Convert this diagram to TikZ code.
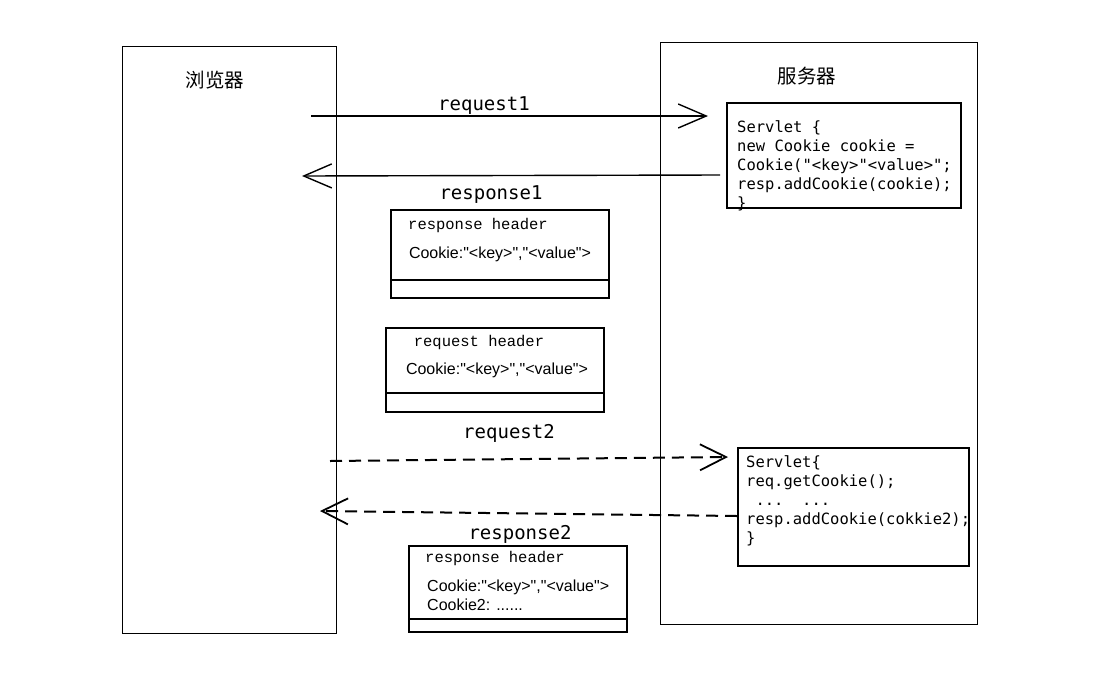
\documentclass[tikz,border=0pt]{standalone}
\usepackage{fontspec}
\setmainfont{Liberation Sans}[Ligatures=TeXOff]
\setmonofont{DejaVu Sans Mono}
\newfontfamily\cjk{Noto Sans CJK SC}
\newfontfamily\typew{Liberation Mono}
\usetikzlibrary{arrows.meta}
\begin{document}
\begin{tikzpicture}[x=1pt,y=-1pt,
  frame/.style={draw, line width=1pt, inner sep=0pt},
  hbox/.style={draw, line width=2.3pt, inner sep=0pt},
  code/.style={font=\ttfamily\fontsize{15.5}{19}\selectfont, align=left, anchor=base west, inner sep=0pt},
  lbl/.style={font=\ttfamily\fontsize{19}{21}\selectfont, inner sep=0pt, anchor=base},
  htitle/.style={font=\typew\fontsize{15.5}{18}\selectfont, inner sep=0pt, anchor=base},
  ckie/.style={font=\fontsize{16}{19}\selectfont, align=left, inner sep=0pt},
  cjklbl/.style={font=\cjk\fontsize{19.5}{22}\selectfont, inner sep=0pt},
  solidarrow/.style={line width=1.4pt, -{Straight Barb[length=28pt,width=24pt,line width=1.4pt]}},
  dasharrow/.style={line width=2pt, dash pattern=on 12pt off 7pt, -{Straight Barb[length=26pt,width=26pt,line width=1.8pt]}}
]
\useasboundingbox (0,0) rectangle (1109,673);

% outer frames
\node[frame, minimum width=214pt, minimum height=587pt] (browser) at (229,339.5) {};
\node[frame, minimum width=317pt, minimum height=582pt] (server) at (818.5,333) {};
\node[cjklbl] (blabel) at (215,80) {浏览器};
\node[cjklbl] (slabel) at (807,76) {服务器};

% servlet boxes
\node[hbox, minimum width=234pt, minimum height=105pt] (servlet1) at (844,155.5) {};
\node[code] (code1) at (737,208) {Servlet \{\\new Cookie cookie =\\Cookie("<key>"<value>";\\resp.addCookie(cookie);\\\}};
\node[hbox, minimum width=231pt, minimum height=118pt] (servlet2) at (853.5,507) {};
\node[code] (code2) at (746,543) {Servlet\{\\req.getCookie();\\\mbox{}\ ...\ \ ...\\resp.addCookie(cokkie2);\\\}};

% header boxes
\node[hbox, minimum width=218pt, minimum height=88pt] (rh1) at (500,254) {};
\node[htitle] (rh1t) at (478,229) {response header};
\node[ckie] (rh1c) at (500,254) {Cookie:"<key>","<value">};
\draw[line width=2.3pt] (391,280) -- (609,280);

\node[hbox, minimum width=218pt, minimum height=84pt] (qh) at (495,370) {};
\node[htitle] (qht) at (479,346) {request header};
\node[ckie] (qhc) at (497,370) {Cookie:"<key>","<value">};
\draw[line width=2.3pt] (386,393) -- (604,393);

\node[hbox, minimum width=218pt, minimum height=86pt] (rh2) at (518,589) {};
\node[htitle] (rh2t) at (495,562) {response header};
\node[ckie, anchor=base west] (rh2c) at (427,610) {Cookie:"<key>","<value">\\Cookie2: ......};
\draw[line width=2.3pt] (409,619) -- (627,619);

% arrow labels
\node[lbl] (req1) at (484,110) {request1};
\node[lbl] (resp1) at (491,199) {response1};
\node[lbl] (req2) at (509,438) {request2};
\node[lbl] (resp2) at (520,539) {response2};

% connectors
\coordinate (a1s) at (311,116);
\coordinate (a1e) at (708,116);
\coordinate (a2s) at (720,175);
\coordinate (a2e) at (302,176);
\coordinate (a3s) at (330,461);
\coordinate (a3e) at (728,457);
\coordinate (a4s) at (737,516);
\coordinate (a4e) at (320,511);
\draw[solidarrow] (a1s) -- (a1e);
\draw[solidarrow] (a2s) -- (a2e);
\draw[dasharrow] (a3s) -- (a3e);
\draw[dasharrow] (a4s) -- (a4e);
\end{tikzpicture}
\end{document}
